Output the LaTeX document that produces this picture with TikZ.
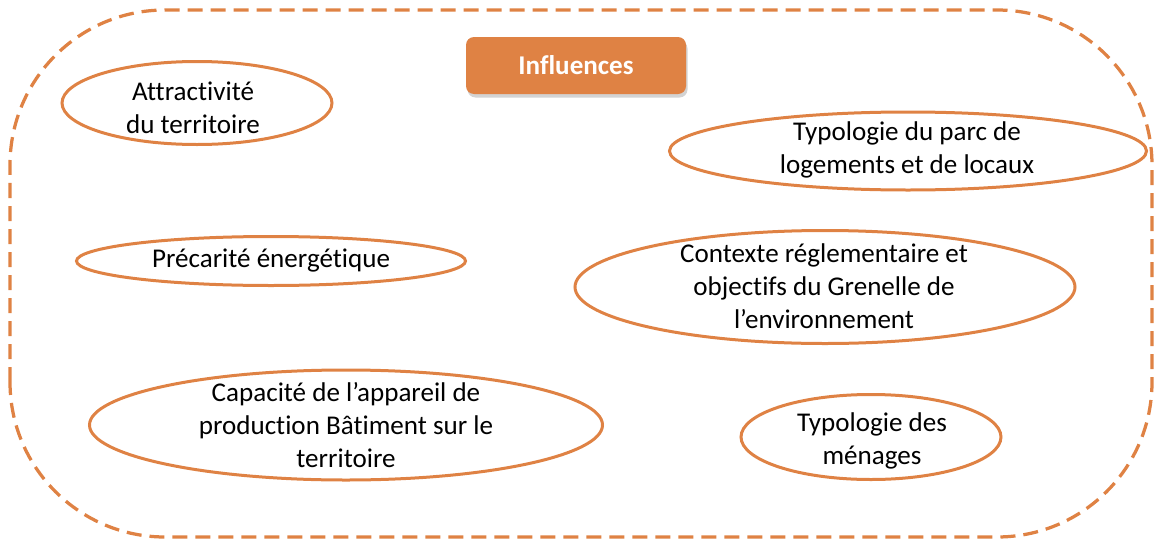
\documentclass[tikz,border=0pt]{standalone}
\usepackage{fontspec}
\setmainfont[Ligatures=NoCommon]{Carlito}
\usetikzlibrary{shadows}
\definecolor{orangeinf}{HTML}{DF8244}

\begin{document}
\begin{tikzpicture}[
    bulle/.style={draw=orangeinf, line width=0.06cm},
    texte/.style={align=center, inner sep=0pt, font=\fontsize{15.4}{18.8}\selectfont}
]

    \useasboundingbox (0,0) rectangle (23.26,10.84);

    % cadre en pointilles
    \draw [orangeinf, line width=0.065cm, dash pattern=on 0.3cm off 0.16cm, rounded corners=3.1cm] (0.2,0.1) rectangle (23.04,10.64);

    \node [fill=orangeinf, rounded corners=0.16cm, minimum width=4.4cm, minimum height=1.14cm,
        drop shadow={shadow xshift=0.03cm, shadow yshift=-0.07cm, opacity=0.35},
        text=white, font=\fontsize{15.4}{18.8}\selectfont\bfseries] (influences) at (11.52,9.53) {Influences};

    % les bulles
    \draw [bulle] (3.94,8.78) ellipse [x radius=2.7, y radius=0.83];
    \node [texte] (attract) at (3.86,8.68) {Attractivité\\du territoire};

    \draw [bulle] (18.16,7.82) ellipse [x radius=4.77, y radius=0.78];
    \node [texte] (parc) at (18.14,7.84) {Typologie du parc de\\logements et de locaux};

    \draw [bulle] (5.42,5.62) ellipse [x radius=3.89, y radius=0.49];
    \node [texte] (precarite) at (5.42,5.62) {Précarité énergétique};

    \draw [bulle] (16.5,5.10) ellipse [x radius=5.0, y radius=1.13];
    \node [texte] (contexte) at (16.48,5.12) {Contexte réglementaire et\\objectifs du Grenelle de\\l’environnement};

    \draw [bulle] (6.92,2.34) ellipse [x radius=5.13, y radius=1.1];
    \node [texte] (capacite) at (6.92,2.34) {Capacité de l’appareil de\\production Bâtiment sur le\\territoire};

    \draw [bulle] (17.42,2.10) ellipse [x radius=2.6, y radius=0.85];
    \node [texte] (menages) at (17.44,2.02) {Typologie des\\ménages};

\end{tikzpicture}
\end{document}
